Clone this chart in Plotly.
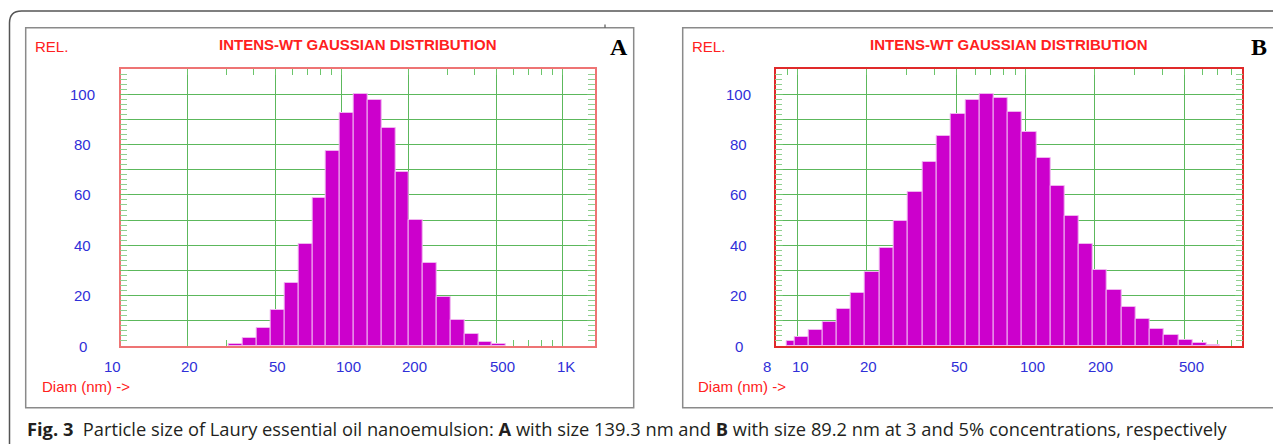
import numpy as np
import plotly.graph_objects as go

# ---------------- data ----------------
# Panel A: bin edges (nm) and relative intensity
A_edges_nm = [30.9, 35.7, 41.2, 47.7, 55.0, 63.6, 73.6, 84.8, 98.1, 113.2, 130.9,
              151.0, 174.7, 201.4, 233.0, 268.7, 310.9, 358.4, 414.7, 478.2, 549.5]
A_rel = [0.9, 3.0, 7.2, 14.2, 25.2, 40.4, 58.8, 77.4, 92.6, 100.0, 97.5,
         86.5, 69.1, 50.2, 33.0, 19.5, 10.3, 4.8, 1.7, 0.7]

# Panel B
B_edges_nm = [8.98, 9.67, 11.17, 12.87, 14.88, 17.13, 19.74, 22.81, 26.37, 30.48, 35.23,
              40.70, 47.04, 54.38, 62.63, 72.38, 83.65, 96.69, 111.7, 128.7, 148.8,
              172.0, 198.1, 228.2, 263.8, 303.8, 351.0, 405.7, 469.0, 540.1, 624.2, 714.2]
B_rel = [2.1, 3.6, 6.2, 9.7, 14.7, 21.1, 29.3, 38.8, 49.7, 61.3, 73.0, 83.4, 92.1,
         97.7, 100.0, 98.4, 93.1, 85.0, 74.7, 63.4, 51.5, 40.4, 30.3, 22.3, 15.5,
         10.6, 6.6, 4.2, 2.5, 1.3, 0.4]

A_range_nm = [10, 1400]
B_range_nm = [8, 895]
A_grid_nm = [20, 50, 100, 200, 500, 1000]
B_grid_nm = [10, 20, 50, 100, 200, 500]
A_minor_nm = [30, 40, 60, 70, 80, 90, 300, 400, 600, 700, 800, 900]
B_minor_nm = [9, 30, 40, 60, 70, 80, 90, 300, 400, 600, 700, 800]
A_label_nm = [10, 20, 50, 100, 200, 500, 1000]
A_label_txt = ["10", "20", "50", "100", "200", "500", "1K"]
B_label_nm = [8, 10, 20, 50, 100, 200, 500]
B_label_txt = ["8", "10", "20", "50", "100", "200", "500"]
Y_label_vals = [0, 20, 40, 60, 80, 100]

caption = ("<b>Fig. 3</b>\u00a0\u00a0Particle size of Laury essential oil nanoemulsion: <b>A</b> with size 139.3 nm "
           "and <b>B</b> with size 89.2 nm at 3 and 5% concentrations, respectively")

# ---------------- layout helpers ----------------
# the page body has an 8px default margin, so the figure starts at (8, 8) in the window
OFF = 8
W, H = 1281 - OFF, 444 - OFF
def px(x):
    return (x - OFF) / W
def py(y):
    return 1 - (y - OFF) / H

RED = "#ff2020"
BLUE = "#2f2fd8"
GRID = "#5cb85c"
TICK = "#6cc56c"
BAR = "#cc00cc"
SANS = "Liberation Sans, Arial, sans-serif"

fig = go.Figure()

def bars(edges, vals, xa, ya):
    le = np.log10(np.array(edges))
    centers = (le[:-1] + le[1:]) / 2
    widths = le[1:] - le[:-1]
    fig.add_trace(go.Bar(x=centers, y=vals, width=widths, xaxis=xa, yaxis=ya,
                         marker=dict(color=BAR, line=dict(color="#f0b4f0", width=1)),
                         showlegend=False, hoverinfo="skip"))

bars(A_edges_nm, A_rel, "x", "y")
bars(B_edges_nm, B_rel, "x2", "y2")

def xaxis_cfg(dom, rng, grid, minor, border, anchor):
    return dict(domain=dom, range=list(np.log10(rng)), tickmode="array",
                tickvals=list(np.log10(grid)), ticks="inside", ticklen=6, tickcolor=TICK,
                showticklabels=False, showgrid=True, gridcolor=GRID, gridwidth=1,
                showline=True, linecolor=border, linewidth=1.5, mirror="ticks",
                zeroline=False, layer="below traces", fixedrange=True, anchor=anchor,
                minor=dict(tickmode="array", tickvals=list(np.log10(minor)), ticks="inside",
                           ticklen=6, tickcolor=TICK, showgrid=False))

def yaxis_cfg(dom, border, anchor):
    return dict(domain=dom, range=[0, 110], tick0=0, dtick=10, ticks="inside", ticklen=8,
                tickcolor=TICK, showticklabels=False, showgrid=True, gridcolor=GRID,
                gridwidth=1, showline=True, linecolor=border, linewidth=1.5, mirror="ticks",
                zeroline=False, anchor=anchor, fixedrange=True,
                minor=dict(dtick=2, ticks="inside", ticklen=7, tickcolor="#8fd08f", showgrid=False))

ydom = [py(346), py(69)]
fig.update_layout(
    width=W, height=H, margin=dict(l=0, r=0, t=0, b=0),
    paper_bgcolor="white", plot_bgcolor="white",
    xaxis=xaxis_cfg([px(120.7), px(595)], A_range_nm, A_grid_nm, A_minor_nm, "#ee7474", "y"),
    yaxis=yaxis_cfg(ydom, "#ee7474", "x"),
    xaxis2=xaxis_cfg([px(775.7), px(1242.3)], B_range_nm, B_grid_nm, B_minor_nm, "#e02a2a", "y2"),
    yaxis2=yaxis_cfg(ydom, "#e02a2a", "x2"),
    bargap=0,
)

ann = []
shapes = []

# frames
shapes.append(dict(type="path", xref="paper", yref="paper",
                   path=f"M {px(9.5)},{py(460)} L {px(9.5)},{py(23)} Q {px(9.5)},{py(11)} {px(21.5)},{py(11)} L {px(1290)},{py(11)}",
                   line=dict(color="#555555", width=1.5)))
for (x0, x1) in [(25.7, 633.7), (682.7, 1280.3)]:
    shapes.append(dict(type="rect", xref="paper", yref="paper",
                       x0=px(x0), x1=px(x1), y0=py(407.8), y1=py(27.7),
                       line=dict(color="#8a8a8a", width=1.5)))
shapes.append(dict(type="line", xref="paper", yref="paper", x0=px(605), x1=px(605),
                   y0=py(24.5), y1=py(27.5), line=dict(color="#333", width=1)))

panels = [
    dict(xr="x", yr="y", cx=357.5, letter="A", lx=619,
         rel_x=35, diam_x=42, ylab_x=82.5, lab_nm=A_label_nm, lab_txt=A_label_txt, first_shift=-19),
    dict(xr="x2", yr="y2", cx=1008.5, letter="B", lx=1259,
         rel_x=692, diam_x=698, ylab_x=738.5, lab_nm=B_label_nm, lab_txt=B_label_txt, first_shift=-15),
]
for p in panels:
    ann.append(dict(text="INTENS-WT GAUSSIAN DISTRIBUTION", xref="paper", yref="paper",
                    x=px(p["cx"]), y=py(45), xanchor="center", yanchor="middle", showarrow=False,
                    font=dict(family=SANS, size=15, color=RED, weight="bold")))
    ann.append(dict(text="REL.", xref="paper", yref="paper", x=px(p["rel_x"] - 2), y=py(46.5),
                    xanchor="left", yanchor="middle", showarrow=False,
                    font=dict(family=SANS, size=15, color=RED)))
    ann.append(dict(text="Diam (nm) ->", xref="paper", yref="paper", x=px(p["diam_x"] - 2), y=py(386.5),
                    xanchor="left", yanchor="middle", showarrow=False,
                    font=dict(family=SANS, size=15, color=RED)))
    ann.append(dict(text=f"<b>{p['letter']}</b>", xref="paper", yref="paper", x=px(p["lx"]), y=py(46.5),
                    xanchor="center", yanchor="middle", showarrow=False,
                    font=dict(family="Liberation Serif, Times New Roman, serif", size=24, color="black")))
    for v in Y_label_vals:
        ann.append(dict(text=str(v), xref="paper", yref=p["yr"], x=px(p["ylab_x"]), y=v,
                        xanchor="center", yanchor="middle", showarrow=False,
                        font=dict(family=SANS, size=15, color=BLUE)))
    for i, (v, t) in enumerate(zip(p["lab_nm"], p["lab_txt"])):
        ann.append(dict(text=t, xref=p["xr"], yref="paper", x=float(np.log10(v)), y=py(366),
                        xanchor="left", yanchor="middle", showarrow=False,
                        xshift=(p["first_shift"] if i == 0 else -8),
                        font=dict(family=SANS, size=15, color=BLUE)))

ann.append(dict(text=caption, xref="paper", yref="paper", x=px(25), y=py(428.5),
                xanchor="left", yanchor="middle", showarrow=False,
                font=dict(family="Open Sans, Noto Sans, sans-serif", size=18.3, color="#231f20")))

fig.update_layout(annotations=ann, shapes=shapes)
fig.write_html("out.html")
